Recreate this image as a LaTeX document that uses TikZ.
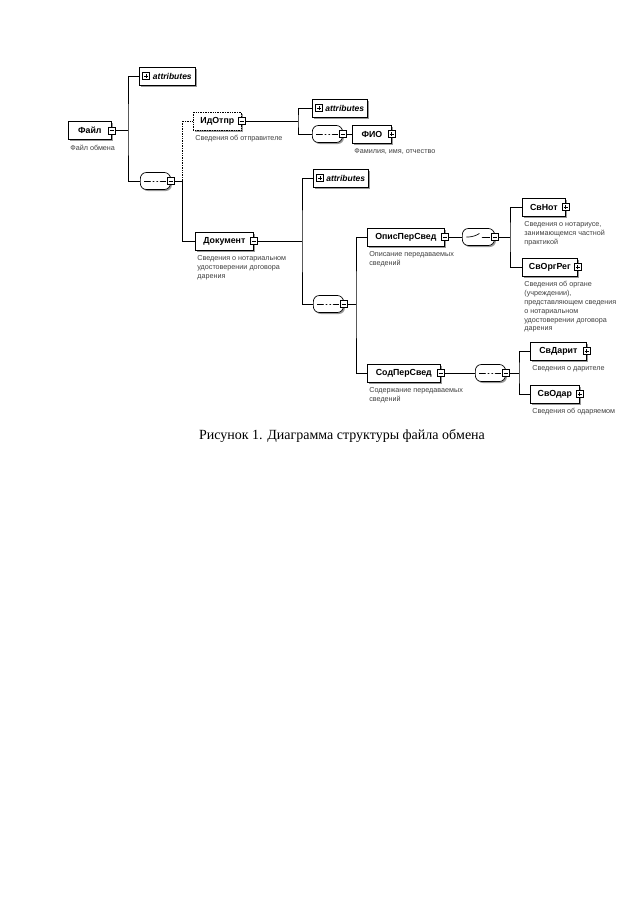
\documentclass[tikz,border=0pt]{standalone}
\usepackage{fontspec}
\setmainfont{Liberation Sans}
\newfontfamily\capfont{Liberation Serif}
\usetikzlibrary{positioning,shadows}

\begin{document}
\begin{tikzpicture}[x=1pt,y=-1pt,line width=0.7pt,
    elem/.style={draw,fill=white,anchor=west,minimum height=18pt,inner xsep=3pt,
        font=\fontsize{8.8}{10}\selectfont\bfseries,
        drop shadow={shadow xshift=1.5pt,shadow yshift=-1.5pt,fill=black!40,opacity=1}},
    optelem/.style={elem,densely dotted},
    attrbox/.style={elem,font=\fontsize{8.5}{10}\selectfont\bfseries\itshape},
    seqbox/.style={draw,fill=white,anchor=west,rounded corners=6pt,minimum width=30pt,minimum height=17pt,
        drop shadow={shadow xshift=1.5pt,shadow yshift=-1.5pt,fill=black!40,opacity=1},
        path picture={
            \draw ([xshift=4pt]path picture bounding box.west) -- ([xshift=-4pt]path picture bounding box.east);
            \fill (path picture bounding box.center) circle[radius=1.4pt]
                ([xshift=-3.6pt]path picture bounding box.center) circle[radius=1.4pt]
                ([xshift=3.6pt]path picture bounding box.center) circle[radius=1.4pt];}},
    choicebox/.style={draw,fill=white,anchor=west,rounded corners=6pt,minimum width=32pt,minimum height=17pt,
        drop shadow={shadow xshift=1.5pt,shadow yshift=-1.5pt,fill=black!40,opacity=1},
        path picture={
            \draw ([xshift=4pt]path picture bounding box.west) -- ([xshift=-4pt]path picture bounding box.center)
                -- ([xshift=1pt,yshift=3.5pt]path picture bounding box.center);
            \draw ([xshift=3pt]path picture bounding box.center) -- ([xshift=-4pt]path picture bounding box.east);
            \fill ([xshift=3pt,yshift=3pt]path picture bounding box.center) circle[radius=0.9pt]
                ([xshift=3pt]path picture bounding box.center) circle[radius=0.9pt]
                ([xshift=3pt,yshift=-3pt]path picture bounding box.center) circle[radius=0.9pt];}},
    pmminus/.style={draw,fill=white,minimum size=7pt,inner sep=0pt,line width=0.6pt,
        path picture={\draw ([xshift=1.5pt]path picture bounding box.west) -- ([xshift=-1.5pt]path picture bounding box.east);}},
    pmplus/.style={draw,fill=white,minimum size=7pt,inner sep=0pt,line width=0.6pt,
        path picture={\draw ([xshift=1.5pt]path picture bounding box.west) -- ([xshift=-1.5pt]path picture bounding box.east);
            \draw ([yshift=1.5pt]path picture bounding box.south) -- ([yshift=-1.5pt]path picture bounding box.north);}},
    desc/.style={align=left,inner sep=0pt,font=\fontsize{7.2}{8.8}\selectfont,text=black!75}
]
\path[use as bounding box,fill=white] (0,0) rectangle (640,905);

% root
\node[elem,minimum width=43pt] (fajl) at (68,130.5) {Файл};
\node[pmminus] (fajlpm) at (fajl.east) {};
\node[desc,below=5pt of fajl.south west,anchor=north west,xshift=2pt] (fajldesc) {Файл обмена};
\node[attrbox,minimum width=56pt] (attr1) at (139,76) {\hspace{10pt}attributes};
\node[pmplus] (attr1pm) at ([xshift=7pt]attr1.west) {};
\node[seqbox] (seq1) at (140,181) {};
\node[pmminus] (seq1pm) at (seq1.east) {};
\coordinate (j1) at (128,130.5);
\draw (fajlpm.east) -- (j1);
\draw (attr1.west) -| (j1) |- (seq1.west);

% sender
\node[optelem,minimum width=48pt] (idotpr) at (193,121) {ИдОтпр};
\node[pmminus] (idotprpm) at (idotpr.east) {};
\node[desc,below=5pt of idotpr.south west,anchor=north west,xshift=2pt] (idotprdesc) {Сведения об отправителе};
\node[elem,minimum width=58pt] (dok) at (195,241) {Документ};
\node[pmminus] (dokpm) at (dok.east) {};
\node[desc,below=5pt of dok.south west,anchor=north west,xshift=2pt] (dokdesc) {Сведения о нотариальном\\удостоверении договора\\дарения};
\coordinate (j2) at (182,181);
\draw (seq1pm.east) -- (j2);
\draw[densely dotted] (j2) |- (idotpr.west);
\draw (j2) |- (dok.west);

\node[attrbox,minimum width=54pt] (attr2) at (312,108) {\hspace{10pt}attributes};
\node[pmplus] (attr2pm) at ([xshift=7pt]attr2.west) {};
\node[seqbox] (seq2) at (312,134) {};
\node[pmminus] (seq2pm) at (seq2.east) {};
\node[elem,minimum width=39pt] (fio) at (352,134) {ФИО\hspace{6pt}};
\node[pmplus] (fiopm) at (fio.east) {};
\node[desc,below=5pt of fio.south west,anchor=north west,xshift=2pt] (fiodesc) {Фамилия, имя, отчество};
\coordinate (j3) at (298,121);
\draw (idotprpm.east) -- (j3);
\draw (attr2.west) -| (j3) |- (seq2.west);
\draw (seq2pm.east) -- (fio.west);

% document
\node[attrbox,minimum width=54pt] (attr3) at (313,178) {\hspace{10pt}attributes};
\node[pmplus] (attr3pm) at ([xshift=7pt]attr3.west) {};
\node[seqbox] (seq3) at (313,304) {};
\node[pmminus] (seq3pm) at (seq3.east) {};
\coordinate (j4) at (302,241);
\draw (dokpm.east) -- (j4);
\draw (attr3.west) -| (j4) |- (seq3.west);

\node[elem,minimum width=77pt] (opis) at (367,237) {ОписПерСвед\hspace{4pt}};
\node[pmminus] (opispm) at (opis.east) {};
\node[desc,below=5pt of opis.south west,anchor=north west,xshift=2pt] (opisdesc) {Описание передаваемых\\сведений};
\node[elem,minimum width=73pt] (sod) at (367,373) {СодПерСвед\hspace{4pt}};
\node[pmminus] (sodpm) at (sod.east) {};
\node[desc,below=5pt of sod.south west,anchor=north west,xshift=2pt] (soddesc) {Содержание передаваемых\\сведений};
\coordinate (j5) at (356,304);
\draw (seq3pm.east) -- (j5);
\draw (opis.west) -| (j5) |- (sod.west);

% notary / registry
\node[choicebox] (choice) at (462,237) {};
\node[pmminus] (choicepm) at (choice.east) {};
\draw (opispm.east) -- (choice.west);
\node[elem,minimum width=43pt] (svnot) at (522,207) {СвНот\hspace{5pt}};
\node[pmplus] (svnotpm) at (svnot.east) {};
\node[desc,below=5pt of svnot.south west,anchor=north west,xshift=2pt] (svnotdesc) {Сведения о нотариусе,\\занимающемся частной\\практикой};
\node[elem,minimum width=55pt] (svorgreg) at (522,267) {СвОргРег\hspace{5pt}};
\node[pmplus] (svorgregpm) at (svorgreg.east) {};
\node[desc,below=5pt of svorgreg.south west,anchor=north west,xshift=2pt] (svorgregdesc) {Сведения об органе\\(учреждении),\\представляющем сведения\\о нотариальном\\удостоверении договора\\дарения};
\coordinate (j6) at (510,237);
\draw (choicepm.east) -- (j6);
\draw (svnot.west) -| (j6) |- (svorgreg.west);

% donor / donee
\node[seqbox] (seq4) at (475,373) {};
\node[pmminus] (seq4pm) at (seq4.east) {};
\draw (sodpm.east) -- (seq4.west);
\node[elem,minimum width=56pt] (svdarit) at (530,351) {СвДарит\hspace{5pt}};
\node[pmplus] (svdaritpm) at (svdarit.east) {};
\node[desc,below=5pt of svdarit.south west,anchor=north west,xshift=2pt] (svdaritdesc) {Сведения о дарителе};
\node[elem,minimum width=49pt] (svodar) at (530,394) {СвОдар\hspace{5pt}};
\node[pmplus] (svodarpm) at (svodar.east) {};
\node[desc,below=5pt of svodar.south west,anchor=north west,xshift=2pt] (svodardesc) {Сведения об одаряемом};
\coordinate (j7) at (519,373);
\draw (seq4pm.east) -- (j7);
\draw (svdarit.west) -| (j7) |- (svodar.west);

\node[font=\capfont\fontsize{14}{16}\selectfont] (caption) at (342,436) {Рисунок 1. Диаграмма структуры файла обмена};
\end{tikzpicture}
\end{document}
